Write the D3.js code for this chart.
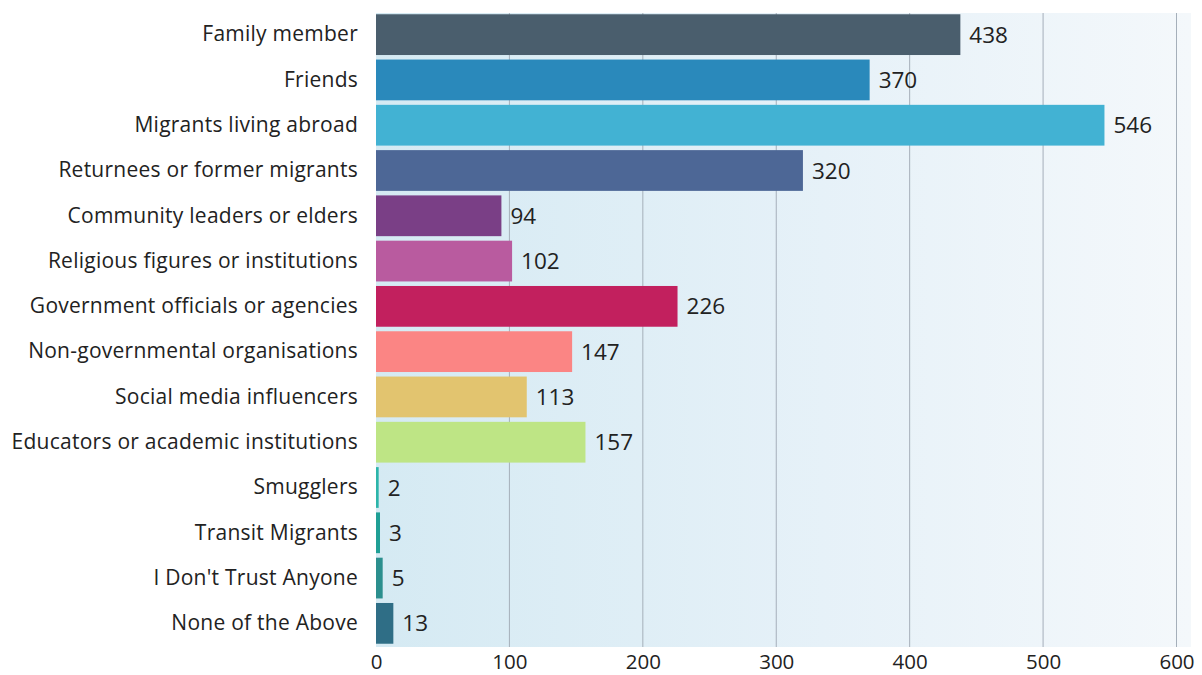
<!DOCTYPE html>
<html>
<head>
<meta charset="utf-8">
<script src="https://cdn.jsdelivr.net/npm/d3@7"></script>
<style>
  html, body { margin: 0; padding: 0; background: #ffffff; }
  svg { display: block; }
</style>
</head>
<body>
<svg id="chart" width="1202" height="675"></svg>
<script>
// Trusted sources of migration information (number of respondents)
const categories = [
  "Family member",
  "Friends",
  "Migrants living abroad",
  "Returnees or former migrants",
  "Community leaders or elders",
  "Religious figures or institutions",
  "Government officials or agencies",
  "Non-governmental organisations",
  "Social media influencers",
  "Educators or academic institutions",
  "Smugglers",
  "Transit Migrants",
  "I Don't Trust Anyone",
  "None of the Above"
];
const values = [438, 370, 546, 320, 94, 102, 226, 147, 113, 157, 2, 3, 5, 13];
const barColors = [
  "#4a5e6d", "#2a89bb", "#42b2d3", "#4d6796", "#7a3f86", "#b95b9f", "#c2205e",
  "#fb8584", "#e2c46f", "#bee585", "#2cb5aa", "#1f9f95", "#2b8f8e", "#2f6e86"
];
const xTicks = [0, 100, 200, 300, 400, 500, 600];

const svg = d3.select("#chart");
const plotLeft = 376, plotRight = 1176.5, plotTop = 12, plotBottom = 646;
const bgTop = 13, bgBottom = 647, bgRight = 1191;

const x = d3.scaleLinear().domain([0, 600]).range([plotLeft, plotRight]);
const y = d3.scaleBand().domain(categories).range([plotTop, plotBottom])
  .paddingInner(0.1).paddingOuter(0.05);

// Plot background: light blue fading to near white
const defs = svg.append("defs");
const grad = defs.append("linearGradient").attr("id", "bg")
  .attr("x1", "0%").attr("x2", "100%").attr("y1", "0%").attr("y2", "0%");
grad.append("stop").attr("offset", "0%").attr("stop-color", "#d5eaf3");
grad.append("stop").attr("offset", "55%").attr("stop-color", "#e6f1f8");
grad.append("stop").attr("offset", "100%").attr("stop-color", "#f4f8fb");

svg.append("rect")
  .attr("x", plotLeft).attr("y", bgTop)
  .attr("width", bgRight - plotLeft).attr("height", bgBottom - bgTop)
  .attr("fill", "url(#bg)");

// Vertical gridlines
svg.append("g")
  .selectAll("line")
  .data(xTicks.filter(d => d > 0))
  .join("line")
  .attr("x1", d => x(d)).attr("x2", d => x(d))
  .attr("y1", bgTop).attr("y2", bgBottom)
  .attr("stroke", "#a5afba")
  .attr("stroke-width", 1);

// Bars
svg.append("g")
  .selectAll("rect")
  .data(categories)
  .join("rect")
  .attr("x", x(0))
  .attr("y", d => y(d))
  .attr("width", (d, i) => Math.max(0, x(values[i]) - x(0)))
  .attr("height", y.bandwidth())
  .attr("fill", (d, i) => barColors[i]);

// Value labels
svg.append("g")
  .selectAll("text")
  .data(categories)
  .join("text")
  .attr("x", (d, i) => x(values[i]) + 9)
  .attr("y", d => y(d) + y.bandwidth() / 2)
  .attr("dy", "0.36em")
  .attr("font-family", "'Open Sans', sans-serif")
  .attr("font-size", 22.5)
  .attr("fill", "#222")
  .text((d, i) => values[i]);

// Category axis
const yAxis = svg.append("g")
  .attr("transform", `translate(${plotLeft},0)`)
  .call(d3.axisLeft(y).tickSize(0).tickPadding(18));
yAxis.select(".domain").remove();
yAxis.selectAll("text")
  .attr("font-family", "'Open Sans', sans-serif")
  .attr("font-size", 21)
  .attr("letter-spacing", 0.25)
  .attr("fill", "#222");

// Value axis
const xAxis = svg.append("g")
  .attr("transform", `translate(0,${bgBottom})`)
  .call(d3.axisBottom(x).tickValues(xTicks).tickSize(0).tickPadding(0));
xAxis.select(".domain").remove();
xAxis.selectAll("text")
  .attr("dy", null)
  .attr("y", 22)
  .attr("font-family", "'Open Sans', sans-serif")
  .attr("font-size", 20.5)
  .attr("fill", "#222");
</script>
</body>
</html>
